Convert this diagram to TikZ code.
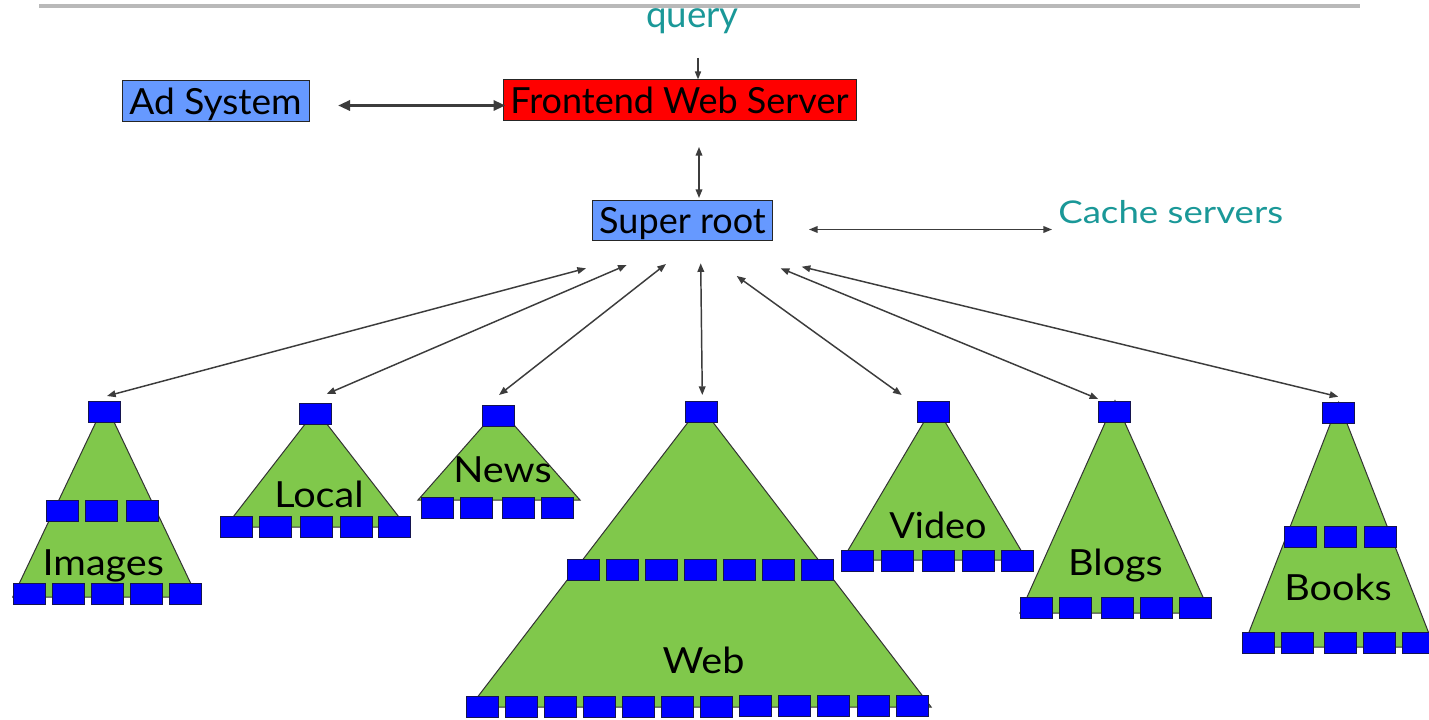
\documentclass[tikz,border=0pt]{standalone}
\usepackage{fontspec}
\setmainfont{Lato}
\usetikzlibrary{arrows.meta}

\definecolor{adblue}{RGB}{102,153,255}
\definecolor{fered}{RGB}{255,0,0}
\definecolor{leafblue}{RGB}{0,0,255}
\definecolor{leafedge}{RGB}{20,20,80}
\definecolor{treegreen}{RGB}{128,200,75}
\definecolor{tealtext}{RGB}{26,152,152}
\definecolor{wire}{RGB}{60,60,60}
\definecolor{rulegray}{RGB}{185,185,185}

% slightly widened lettering for the tree captions
\newcommand{\widetext}[2][1.1]{\scalebox{#1}[1]{#2}}

\begin{document}
\begin{tikzpicture}[x=0.75pt,y=-0.75pt,
  box/.style={draw=black!85, line width=0.75pt, inner sep=0pt,
    text height=19.4pt, text depth=0pt, font=\fontsize{27}{31}\selectfont},
  blk/.style={draw=leafedge, fill=leafblue, line width=0.75pt,
    minimum width=24pt, minimum height=15.75pt, inner sep=0pt},
  tree/.style={fill=treegreen, draw=black!80, line width=0.75pt},
  lbl/.style={font=\fontsize{27}{31}\selectfont, anchor=base, inner sep=0pt},
  link/.style={draw=wire, line width=1.1pt,
    {Triangle[length=6.5pt,width=5pt]}-{Triangle[length=6.5pt,width=5pt]}},
  onearrow/.style={draw=wire, line width=1.1pt, -{Triangle[length=6pt,width=4.5pt]}},
  heavylink/.style={draw=wire, line width=2.6pt,
    {Triangle[length=9pt,width=7.5pt]}-{Triangle[length=9pt,width=7.5pt]}}
]
\clip (0,0) rectangle (1429,720);
\fill[white] (0,0) rectangle (1429,720);

% header rule
\draw[rulegray, line width=2.3pt] (39,6) -- (1360,6);

% top-level servers
\node[lbl, text=tealtext, font=\fontsize{27.5}{31}\selectfont] (query) at (692.5,28) {query};
\node[box, fill=adblue, minimum width=140.25pt, minimum height=30.75pt] (ad) at (215.5,101.5) {\widetext[1.03]{Ad System}};
\node[box, fill=fered, minimum width=264.75pt, minimum height=30.75pt] (fe) at (679.5,100.5) {Frontend Web Server};
\node[box, fill=adblue, minimum width=135pt, minimum height=30pt] (sr) at (682.5,221) {Super root};
\node[lbl, anchor=base west, text=tealtext, font=\fontsize{23.5}{28}\selectfont] (cache) at (1058,224) {\widetext[1.17]{Cache servers}};

% trees: fan-out triangles
\draw[tree] (105,403) -- (12.8,597) -- (197.2,597) -- cycle;
\draw[tree] (316,410) -- (225.3,527) -- (406.7,527) -- cycle;
\draw[tree] (499,408) -- (418,500) -- (580,500) -- cycle;
\draw[tree] (700.5,406) -- (469.9,707) -- (931.1,707) -- cycle;
\draw[tree] (934.5,404) -- (842.3,560) -- (1026.7,560) -- cycle;
\draw[tree] (1115,400.7) -- (1019.9,613) -- (1210.1,613) -- cycle;
\draw[tree] (1338.7,402.2) -- (1243.2,647) -- (1434.2,647) -- cycle;

% Images
\node[blk] (img-top) at (104.5,412) {};
\foreach \x [count=\i] in {62,101.5,142} \node[blk] (img-m\i) at (\x,511) {};
\foreach \x [count=\i] in {29,68,107.5,146,185.5} \node[blk] (img-b\i) at (\x,594) {};
\node[lbl] (img-lbl) at (103.3,575) {\widetext{Images}};

% Local
\node[blk] (loc-top) at (315.5,414.5) {};
\foreach \x [count=\i] in {236,275,316,356,394.5} \node[blk] (loc-b\i) at (\x,526.5) {};
\node[lbl] (loc-lbl) at (319,508) {\widetext{Local}};

% News
\node[blk] (news-top) at (498,416) {};
\foreach \x [count=\i] in {437,476,518,557} \node[blk] (news-b\i) at (\x,507.5) {};
\node[lbl] (news-lbl) at (502.5,483) {\widetext{News}};

% Web
\node[blk] (web-top) at (701,412.5) {};
\foreach \i in {0,...,6} \node[blk] (web-m\i) at (583.5+39*\i,569.5) {};
\foreach \i in {0,...,6} \node[blk] (web-b\i) at (482+39.1*\i,707) {};
\foreach \i in {7,...,11} \node[blk] (web-b\i) at (482+39.1*\i,705.5) {};
\node[lbl] (web-lbl) at (703.5,673) {\widetext{Web}};

% Video
\node[blk] (vid-top) at (933,412.5) {};
\foreach \x [count=\i] in {857.8,897,938.8,978,1017} \node[blk] (vid-b\i) at (\x,560.5) {};
\node[lbl] (vid-lbl) at (938,538) {\widetext[1.05]{Video}};

% Blogs
\node[blk] (blog-top) at (1114.5,412.5) {};
\foreach \x [count=\i] in {1036.2,1075.3,1117.2,1156.2,1195.3} \node[blk] (blog-b\i) at (\x,607.5) {};
\node[lbl] (blog-lbl) at (1115.5,575) {\widetext{Blogs}};

% Books
\node[blk] (book-top) at (1338.3,412.8) {};
\foreach \x [count=\i] in {1300.8,1340,1380.3} \node[blk] (book-m\i) at (\x,537.2) {};
\foreach \x [count=\i] in {1258.8,1297.8,1340,1379.2,1418.3} \node[blk] (book-b\i) at (\x,643) {};
\node[lbl] (book-lbl) at (1338,600) {\widetext{Books}};

% connector end points
\coordinate (qtail) at (698,58);
\coordinate (adgap) at (338,105.5);
\coordinate (fe-out) at (699,147);
\coordinate (sr-in) at (699,198);
\coordinate (sr-right) at (809,229.5);
\coordinate (cache-in) at (1052,229.5);
\coordinate (f-img) at (586,268.3);   \coordinate (t-img) at (107,396);
\coordinate (f-loc) at (626.7,265);   \coordinate (t-loc) at (326.7,394);
\coordinate (f-news) at (666,264);    \coordinate (t-news) at (499,395);
\coordinate (f-web) at (700.7,263.3); \coordinate (t-web) at (702.3,395);
\coordinate (f-vid) at (736.7,276);   \coordinate (t-vid) at (901.7,395);
\coordinate (f-blog) at (780.7,268.3);\coordinate (t-blog) at (1098.3,399);
\coordinate (f-book) at (801.7,266.7);\coordinate (t-book) at (1338.3,396.7);

% connectors
\draw[onearrow] (qtail) -- (qtail |- fe.north);
\draw[heavylink, shorten >=-2.25pt] (adgap) -- (fe.west |- adgap);
\draw[link] (fe-out) -- (sr-in);
\draw[link] (sr-right) -- (cache-in);
\foreach \n in {img,loc,news,web,vid,blog,book}
  \draw[link] (f-\n) -- (t-\n);
\end{tikzpicture}
\end{document}
